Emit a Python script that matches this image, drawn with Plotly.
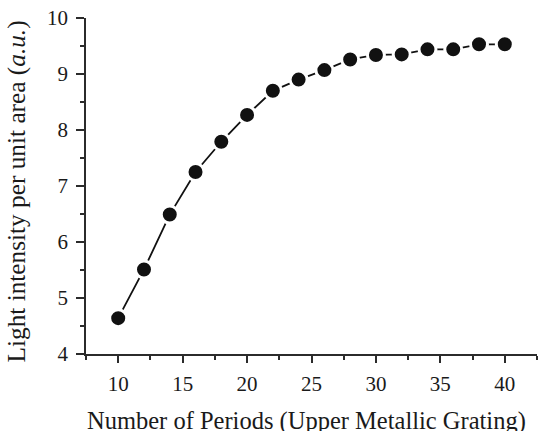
import plotly.graph_objects as go

periods = [10, 12, 14, 16, 18, 20, 22, 24, 26, 28, 30, 32, 34, 36, 38, 40]
intensity = [4.64, 5.51, 6.49, 7.25, 7.79, 8.27, 8.70, 8.90, 9.07, 9.26, 9.34, 9.35, 9.44, 9.44, 9.53, 9.53]

x_ticks = [10, 15, 20, 25, 30, 35, 40]
y_ticks = [4, 5, 6, 7, 8, 9, 10]

font_family = "Liberation Serif, Times New Roman, serif"
axis_color = "#2b2b2b"
text_color = "#1a1a1a"

fig = go.Figure()
fig.add_trace(go.Scatter(
    x=periods, y=intensity, mode="lines+markers",
    line=dict(color="#111111", width=1.8),
    marker=dict(size=17, color="#111111", line=dict(color="white", width=3)),
    showlegend=False,
))

fig.update_layout(
    width=539, height=431,
    margin=dict(l=86, r=2, t=18, b=77),
    paper_bgcolor="white", plot_bgcolor="white",
    font=dict(family=font_family, color=text_color, size=21),
    xaxis=dict(
        range=[7.5, 42.5], tickvals=x_ticks, ticks="outside", ticklen=7, tickwidth=1.5,
        tickcolor=axis_color, showline=True, linecolor=axis_color, linewidth=1.5,
        showgrid=False, zeroline=False, ticklabelstandoff=3, ticklabeloverflow="allow",
        minor=dict(dtick=2.5, tick0=0, ticks="outside", ticklen=4, tickwidth=1.5, tickcolor=axis_color, showgrid=False),
        tickfont=dict(size=21, family=font_family, color=text_color),
    ),
    yaxis=dict(
        range=[4, 10], tickvals=y_ticks, ticks="outside", ticklen=8, tickwidth=1.5,
        tickcolor=axis_color, showline=True, linecolor=axis_color, linewidth=1.5,
        showgrid=False, zeroline=False, ticklabelstandoff=4, ticklabeloverflow="allow",
        minor=dict(dtick=0.5, tick0=0, ticks="outside", ticklen=4, tickwidth=1.5, tickcolor=axis_color, showgrid=False),
        tickfont=dict(size=21, family=font_family, color=text_color),
    ),
    annotations=[
        dict(text="Number of Periods (Upper Metallic Grating)", xref="paper", yref="paper",
             x=0.5, xshift=-5, y=0, yshift=-51, xanchor="center", yanchor="top", showarrow=False,
             font=dict(size=24.5, family=font_family, color=text_color)),
        dict(text="Light intensity per unit area (<i>a.u.</i>)", xref="paper", yref="paper",
             x=0, xshift=-54, y=0.5, yshift=-6, xanchor="right", yanchor="middle", textangle=-90, showarrow=False,
             font=dict(size=25.3, family=font_family, color=text_color)),
    ],
)

fig.write_html("out.html", config={"displayModeBar": False},
               post_script="document.body.style.margin='0px';document.body.style.overflow='hidden';")
